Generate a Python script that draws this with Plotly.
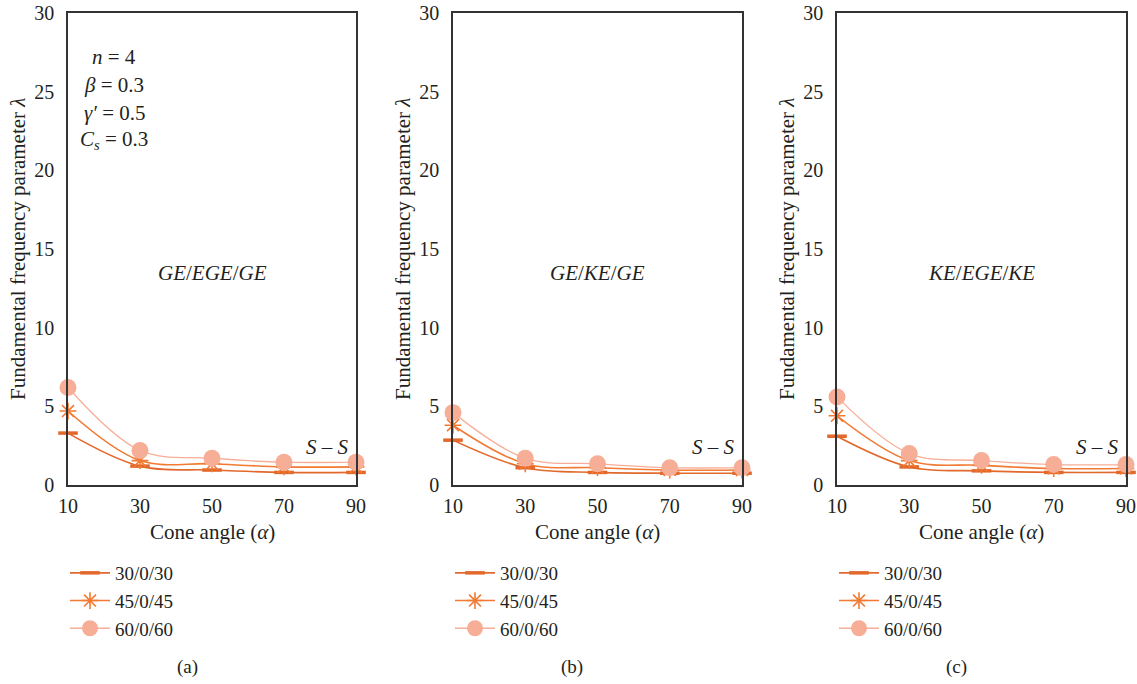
import plotly.graph_objects as go

angles = [10, 30, 50, 70, 90]
series_names = ["30/0/30", "45/0/45", "60/0/60"]

# panel (a) GE/EGE/GE
a_30 = [3.3, 1.2, 0.95, 0.8, 0.8]
a_45 = [4.7, 1.55, 1.35, 1.15, 1.15]
a_60 = [6.2, 2.2, 1.7, 1.45, 1.45]
# panel (b) GE/KE/GE
b_30 = [2.85, 1.1, 0.8, 0.75, 0.75]
b_45 = [3.8, 1.35, 1.1, 0.95, 0.95]
b_60 = [4.6, 1.7, 1.35, 1.1, 1.1]
# panel (c) KE/EGE/KE
c_30 = [3.1, 1.15, 0.9, 0.8, 0.8]
c_45 = [4.4, 1.55, 1.25, 1.05, 1.05]
c_60 = [5.6, 2.0, 1.55, 1.3, 1.3]

panels = [
    ("(a)", "<i>GE</i>/<i>EGE</i>/<i>GE</i>", [a_30, a_45, a_60]),
    ("(b)", "<i>GE</i>/<i>KE</i>/<i>GE</i>", [b_30, b_45, b_60]),
    ("(c)", "<i>KE</i>/<i>EGE</i>/<i>KE</i>", [c_30, c_45, c_60]),
]

W, H = 1137, 684
x_doms = [(68, 356), (453, 742), (837, 1126)]
y_top, y_bot = 13, 485
FONT = "Liberation Serif"
TXT = "#231f20"

styles = [
    dict(color="#E2692B", width=1.6, symbol="line-ew-open", size=14, mline=3.5),
    dict(color="#F27A33", width=1.6, symbol="asterisk-open", size=14, mline=1.6),
    dict(color="#F7AE97", width=1.3, symbol="circle", size=17, mline=0),
]

fig = go.Figure()
for i, (lab, title, data) in enumerate(panels):
    xa = "x" if i == 0 else f"x{i+1}"
    ya = "y" if i == 0 else f"y{i+1}"
    leg = "legend" if i == 0 else f"legend{i+1}"
    for j, (nm, vals) in enumerate(zip(series_names, data)):
        s = styles[j]
        marker = dict(symbol=s["symbol"], size=s["size"], color=s["color"])
        if s["mline"]:
            marker["line"] = dict(color=s["color"], width=s["mline"])
        fig.add_trace(go.Scatter(
            x=angles, y=vals, name=nm, mode="lines+markers",
            line=dict(color=s["color"], width=s["width"], shape="spline", smoothing=1.0),
            marker=marker, xaxis=xa, yaxis=ya, legend=leg, cliponaxis=False,
        ))
    x0, x1 = x_doms[i]
    dom_x = [x0 / W, x1 / W]
    dom_y = [1 - y_bot / H, 1 - y_top / H]
    xk = "xaxis" if i == 0 else f"xaxis{i+1}"
    yk = "yaxis" if i == 0 else f"yaxis{i+1}"
    fig.layout[xk] = dict(
        domain=dom_x, anchor=ya, range=[10, 90], tickvals=angles, automargin=False,
        showgrid=False, zeroline=False, showline=True, linecolor="#333", linewidth=1.5,
        mirror=True, ticks="", ticklen=0, ticklabelstandoff=2,
        tickfont=dict(family=FONT, size=20, color=TXT),
    )
    fig.layout[yk] = dict(
        domain=dom_y, anchor=xa, range=[0, 30], tickvals=[0, 5, 10, 15, 20, 25, 30],
        automargin=False,
        showgrid=False, zeroline=False, showline=True, linecolor="#333", linewidth=1.5,
        mirror=True, ticks="", ticklen=0, ticklabelstandoff=8,
        tickfont=dict(family=FONT, size=20, color=TXT),
    )
    fig.layout[leg] = dict(
        x=(x0 - 3) / W, y=1 - 554 / H, xanchor="left", yanchor="top",
        font=dict(family=FONT, size=19, color=TXT), bgcolor="rgba(0,0,0,0)",
        itemwidth=40, tracegroupgap=0,
    )
    # axis titles
    fig.add_annotation(text="Cone angle (<i>α</i>)", xref="paper", yref="paper",
                       x=(x0 + x1) / 2 / W, y=1 - 532 / H, xanchor="center", yanchor="middle",
                       showarrow=False, font=dict(family=FONT, size=21, color=TXT))
    fig.add_annotation(text="Fundamental frequency parameter <i>λ</i>", xref="paper", yref="paper",
                       x=(x0 - 50) / W, y=1 - 249 / H, xanchor="center", yanchor="middle",
                       textangle=-90, showarrow=False, font=dict(family=FONT, size=21, color=TXT))
    fig.add_annotation(text=title, xref=xa, yref=ya, x=50, y=13.5, showarrow=False,
                       xanchor="center", yanchor="middle",
                       font=dict(family=FONT, size=21, color=TXT))
    fig.add_annotation(text="<i>S</i> – <i>S</i>", xref=xa, yref=ya, x=82, y=2.4, showarrow=False,
                       xanchor="center", yanchor="middle",
                       font=dict(family=FONT, size=21, color=TXT))
    fig.add_annotation(text=lab, xref="paper", yref="paper", x=(x0 + 119) / W, y=1 - 667 / H,
                       xanchor="center", yanchor="middle",
                       showarrow=False, font=dict(family=FONT, size=19, color=TXT))

params = ["<i>n</i> = 4", "<i>β</i> = 0.3", "<i>γ′</i> = 0.5", "<i>C<sub>s</sub></i> = 0.3"]
for k, p in enumerate(params):
    fig.add_annotation(text=p, xref="x", yref="y", x=22.8, y=[27.2, 25.4, 23.65, 21.9][k],
                       xanchor="center", yanchor="middle", showarrow=False,
                       font=dict(family=FONT, size=21, color=TXT))

fig.update_layout(
    width=W, height=H, margin=dict(l=0, r=0, t=0, b=0, autoexpand=False),
    paper_bgcolor="white", plot_bgcolor="white", showlegend=True,
)
fig.write_html("out.html")
